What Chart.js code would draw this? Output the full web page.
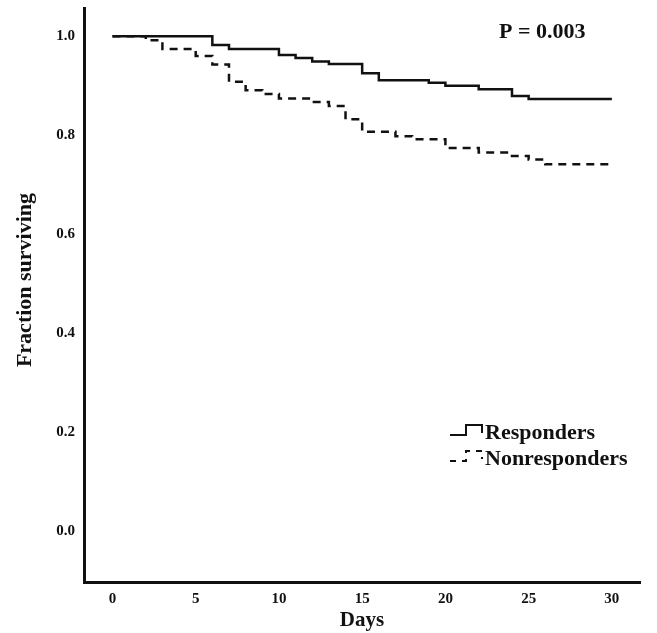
<!DOCTYPE html>
<html>
<head>
<meta charset="utf-8">
<script src="https://cdn.jsdelivr.net/npm/chart.js@4"></script>
<style>
  body { margin: 0; background: #fff; }
  canvas { display: block; }
</style>
</head>
<body>
<canvas id="kmChart" width="657" height="633"></canvas>
<script>
// Kaplan-Meier steps
const respDays = [0, 6, 7, 10, 11, 12, 13, 15, 16, 19, 20, 22, 24, 25, 30];
const respSurv = [1.0, 0.982, 0.974, 0.962, 0.956, 0.949, 0.944, 0.925, 0.911, 0.906, 0.900, 0.893, 0.879, 0.873, 0.873];

const nonDays = [0, 2, 3, 5, 6, 7, 8, 9, 10, 12, 13, 14, 15, 17, 18, 20, 22, 24, 25, 26, 30];
const nonSurv = [1.0, 0.992, 0.974, 0.960, 0.943, 0.908, 0.891, 0.883, 0.874, 0.867, 0.859, 0.832, 0.807, 0.798, 0.792, 0.774, 0.765, 0.758, 0.751, 0.741, 0.741];

const xTicks = [0, 5, 10, 15, 20, 25, 30];
const yTicks = [0.0, 0.2, 0.4, 0.6, 0.8, 1.0];
const seriesNames = ["Responders", "Nonresponders"];
const pText = "P = 0.003";
const yTitle = "Fraction surviving";

const serif = "'Liberation Serif', 'Times New Roman', serif";

function toPoints(xs, ys) {
    return xs.map((x, i) => ({ x: x, y: ys[i] }));
}

// legend with the little step icons, the P value and the y title
const annotations = {
    id: "annotations",
    afterDraw(chart) {
        let ctx = chart.ctx;
        ctx.save();
        ctx.fillStyle = "#111";
        ctx.textBaseline = "alphabetic";
        ctx.font = "bold 22px " + serif;
        ctx.fillText(pText, 499, 38);

        // rotated y title
        ctx.save();
        ctx.translate(31, 280);
        ctx.rotate(-Math.PI / 2);
        ctx.textAlign = "center";
        ctx.font = "bold 22px " + serif;
        ctx.fillText(yTitle, 0, 0);
        ctx.restore();

        ctx.strokeStyle = "#111";
        ctx.lineWidth = 2;
        // solid icon
        ctx.beginPath();
        ctx.moveTo(450, 435);
        ctx.lineTo(466, 435);
        ctx.lineTo(466, 425);
        ctx.lineTo(482, 425);
        ctx.lineTo(482, 433);
        ctx.stroke();
        // dashed icon
        ctx.setLineDash([6, 6]);
        ctx.beginPath();
        ctx.moveTo(450, 461);
        ctx.lineTo(466, 461);
        ctx.lineTo(466, 451);
        ctx.lineTo(482, 451);
        ctx.lineTo(482, 459);
        ctx.stroke();
        ctx.setLineDash([]);

        ctx.font = "bold 22px " + serif;
        ctx.fillText(seriesNames[0], 485, 439);
        ctx.fillText(seriesNames[1], 485, 465);
        ctx.restore();
    }
};

let ctx = document.getElementById("kmChart").getContext("2d");

new Chart(ctx, {
    type: "line",
    data: {
        datasets: [{
            label: seriesNames[0],
            data: toPoints(respDays, respSurv),
            stepped: true,
            borderColor: "#111",
            borderWidth: 2.5,
            pointRadius: 0,
            fill: false
        }, {
            label: seriesNames[1],
            data: toPoints(nonDays, nonSurv),
            stepped: true,
            borderColor: "#111",
            borderWidth: 2.5,
            borderDash: [8, 6],
            pointRadius: 0,
            fill: false
        }]
    },
    options: {
        responsive: false,
        animation: false,
        layout: { padding: { top: 8, right: 17, left: 0, bottom: 0 } },
        plugins: {
            legend: { display: false },
            tooltip: { enabled: false }
        },
        scales: {
            x: {
                type: "linear",
                min: -1.71,
                max: 31.69,
                afterBuildTicks: scale => { scale.ticks = xTicks.map(v => ({ value: v })); },
                afterFit: scale => {
                    scale.height = 51;
                    scale.paddingLeft = 0;
                    scale.paddingRight = 0;
                },
                grid: { display: false, drawTicks: false },
                border: { display: true, color: "#111", width: 3 },
                ticks: {
                    color: "#111",
                    font: { family: serif, size: 15, weight: "bold" },
                    padding: 8,
                    maxRotation: 0
                },
                title: {
                    display: true,
                    text: "Days",
                    color: "#111",
                    font: { family: serif, size: 21, weight: "bold" },
                    padding: { top: 0, bottom: 0 }
                }
            },
            y: {
                type: "linear",
                min: -0.103,
                max: 1.057,
                afterBuildTicks: scale => { scale.ticks = yTicks.map(v => ({ value: v })); },
                afterFit: scale => {
                    scale.width = 84;
                    scale.paddingTop = 0;
                    scale.paddingBottom = 0;
                },
                grid: { display: false, drawTicks: false },
                border: { display: true, color: "#111", width: 3 },
                ticks: {
                    color: "#111",
                    font: { family: serif, size: 15, weight: "bold" },
                    padding: 9,
                    callback: v => v.toFixed(1)
                },
                title: { display: false }
            }
        }
    },
    plugins: [annotations]
});
</script>
</body>
</html>
